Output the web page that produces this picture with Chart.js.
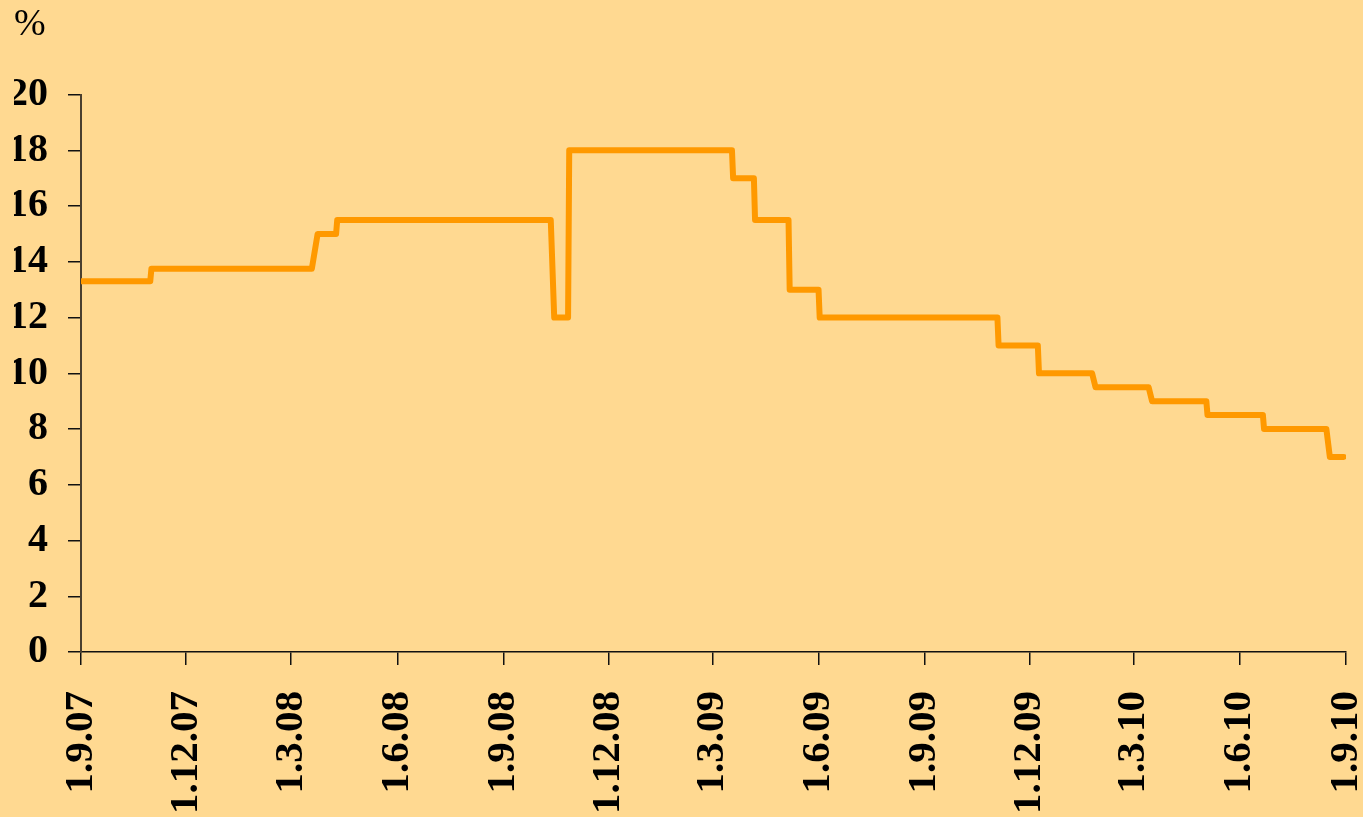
<!DOCTYPE html>
<html lang="en">
<head>
    <meta charset="UTF-8">
    <title>Policy rate</title>
    <script src="https://cdn.jsdelivr.net/npm/chart.js"></script>
    <style>
        html, body {
            margin: 0;
            padding: 0;
            background: #FFD991;
        }
        .chart-container {
            width: 1363px;
            height: 817px;
        }
    </style>
</head>
<body>
    <div class="chart-container">
        <canvas id="rateChart"></canvas>
    </div>

    <script>
        // each rate level, with the first and last day it is shown
        const rates = [13.3, 13.75, 15, 15.5, 12, 18, 17, 15.5, 13, 12, 11, 10, 9.5, 9, 8.5, 8, 7];
        const segStart = ['2007-09-01', '2007-11-01', '2008-03-24', '2008-04-10', '2008-10-15', '2008-10-28',
            '2009-03-19', '2009-04-07', '2009-05-07', '2009-06-02', '2009-11-04', '2009-12-09',
            '2010-01-27', '2010-03-17', '2010-05-04', '2010-06-22', '2010-08-18'];
        const segEnd = ['2007-10-31', '2008-03-19', '2008-04-09', '2008-10-12', '2008-10-27', '2009-03-18',
            '2009-04-06', '2009-05-06', '2009-06-01', '2009-11-03', '2009-12-08', '2010-01-24',
            '2010-03-14', '2010-05-03', '2010-06-21', '2010-08-15', '2010-08-30'];

        const tickDates = ['2007-09-01', '2007-12-01', '2008-03-01', '2008-06-01', '2008-09-01', '2008-12-01',
            '2009-03-01', '2009-06-01', '2009-09-01', '2009-12-01', '2010-03-01', '2010-06-01', '2010-09-01'];
        const tickLabels = ['1.9.07', '1.12.07', '1.3.08', '1.6.08', '1.9.08', '1.12.08',
            '1.3.09', '1.6.09', '1.9.09', '1.12.09', '1.3.10', '1.6.10', '1.9.10'];

        const yTicks = [0, 2, 4, 6, 8, 10, 12, 14, 16, 18, 20];

        // days since the first date, used as the x value
        const origin = Date.parse(tickDates[0]);
        function dayOf(s) {
            return Math.round((Date.parse(s) - origin) / 86400000);
        }

        const points = [];
        rates.forEach((r, i) => {
            points.push({ x: dayOf(segStart[i]), y: r });
            points.push({ x: dayOf(segEnd[i]), y: r });
        });

        const tickDays = tickDates.map(dayOf);
        const serif = "'Liberation Serif', 'Times New Roman', serif";

        const bgPlugin = {
            id: 'bg',
            beforeDraw(chart) {
                const ctx = chart.ctx;
                ctx.save();
                ctx.fillStyle = '#FFD991';
                ctx.fillRect(0, 0, chart.width, chart.height);
                ctx.restore();
            }
        };

        const ctx = document.getElementById('rateChart').getContext('2d');
        new Chart(ctx, {
            type: 'line',
            data: {
                datasets: [{
                    data: points,
                    borderColor: '#FF9900',
                    borderWidth: 6,
                    borderJoinStyle: 'round',
                    borderCapStyle: 'round',
                    pointRadius: 0,
                    tension: 0,
                    fill: false
                }]
            },
            options: {
                responsive: true,
                maintainAspectRatio: false,
                animation: false,
                layout: {
                    padding: { left: 14, right: 0, top: 0, bottom: 0 }
                },
                plugins: {
                    legend: { display: false },
                    tooltip: { enabled: false },
                    title: {
                        display: true,
                        text: '%',
                        align: 'start',
                        color: '#000',
                        font: { family: serif, size: 38, weight: 'normal' },
                        padding: { top: 2, bottom: 47 }
                    }
                },
                scales: {
                    x: {
                        type: 'linear',
                        min: 0,
                        max: tickDays[tickDays.length - 1],
                        afterBuildTicks(scale) {
                            scale.ticks = tickDays.map(v => ({ value: v }));
                        },
                        afterFit(scale) {
                            scale.height = 165;
                            scale.paddingRight = 17;
                            scale.paddingLeft = 0;
                        },
                        grid: {
                            drawOnChartArea: false,
                            drawTicks: true,
                            tickLength: 13,
                            color: '#111',
                            lineWidth: 1.5
                        },
                        border: { color: '#111', width: 1.5 },
                        ticks: {
                            autoSkip: false,
                            minRotation: 90,
                            maxRotation: 90,
                            padding: 26,
                            color: '#000',
                            font: { family: serif, size: 41, weight: 'bold' },
                            callback: (v) => {
                                const i = tickDays.indexOf(v);
                                return i >= 0 ? tickLabels[i] : '';
                            }
                        }
                    },
                    y: {
                        min: 0,
                        max: 20,
                        afterBuildTicks(scale) {
                            scale.ticks = yTicks.map(v => ({ value: v }));
                        },
                        afterFit(scale) {
                            scale.width = 67;
                        },
                        grid: {
                            drawOnChartArea: false,
                            drawTicks: true,
                            tickLength: 13,
                            color: '#111',
                            lineWidth: 1.5
                        },
                        border: { color: '#4a3f2e', width: 2 },
                        ticks: {
                            padding: 20,
                            color: '#000',
                            font: { family: serif, size: 40, weight: 'bold' }
                        }
                    }
                }
            },
            plugins: [bgPlugin]
        });
    </script>
</body>
</html>
